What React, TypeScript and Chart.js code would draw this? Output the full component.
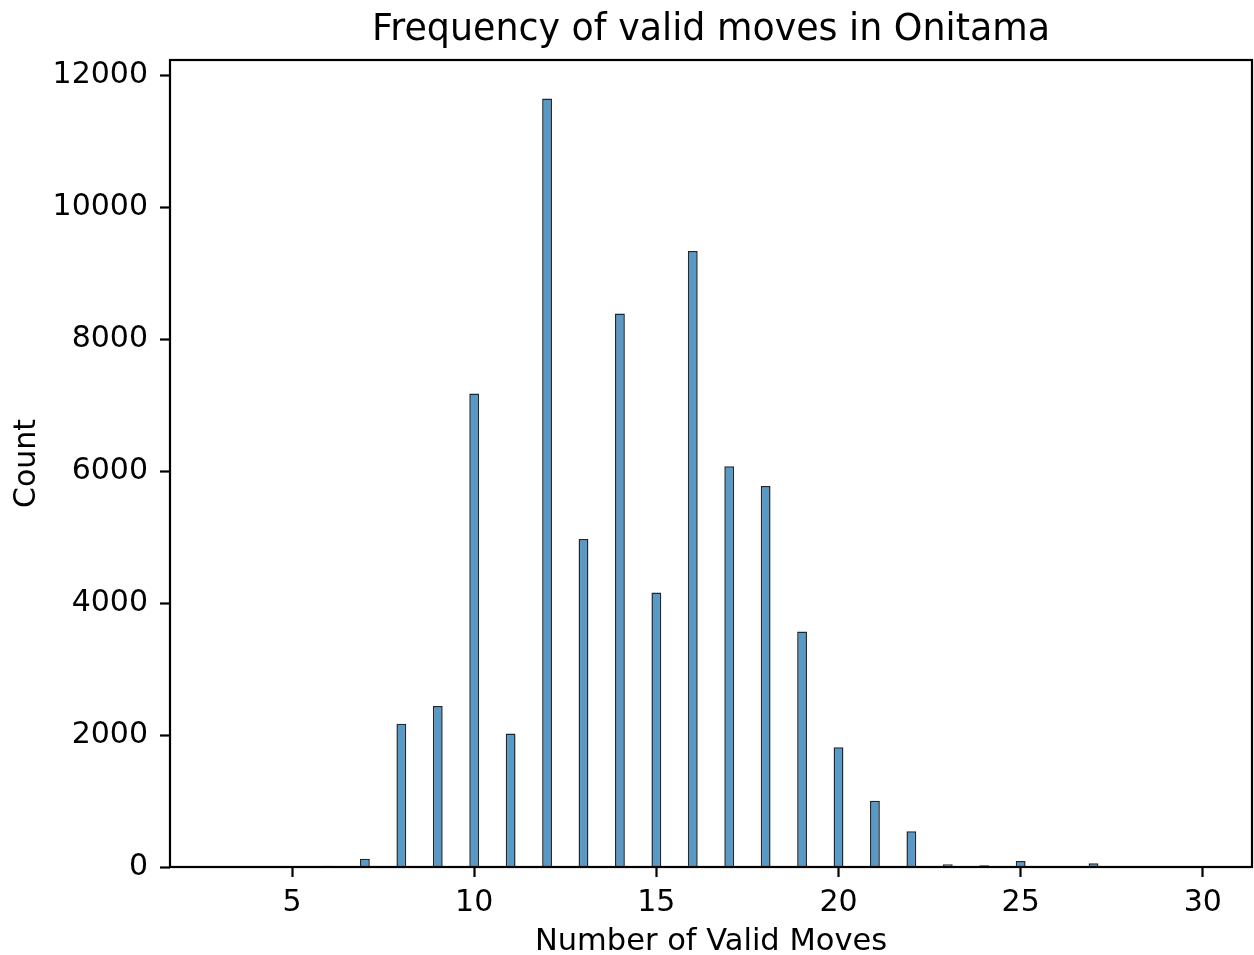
import React, { useEffect, useRef } from "react";
import { Chart, registerables } from "chart.js";

Chart.register(...registerables);

// Number of valid moves (histogram bins) and their counts
const validMoves = [4, 5, 6, 7, 8, 9, 10, 11, 12, 13, 14, 15, 16, 17, 18, 19, 20, 21, 22, 23, 24, 25, 26, 27, 28, 29, 30];
const counts = [5, 5, 20, 125, 2170, 2440, 7175, 2025, 11645, 4970, 8390, 4160, 9335, 6075, 5775, 3570, 1815, 1005, 540, 40, 25, 90, 8, 55, 0, 2, 2];

const xTickValues = [5, 10, 15, 20, 25, 30];
const yTickValues = [0, 2000, 4000, 6000, 8000, 10000, 12000];

const chartTitle = "Frequency of valid moves in Onitama";
const xAxisLabel = "Number of Valid Moves";
const yAxisLabel = "Count";

const FONT = "'DejaVu Sans', sans-serif";

export default function App() {
  const canvasRef = useRef<HTMLCanvasElement | null>(null);

  useEffect(() => {
    if (!canvasRef.current) return;
    const framePlugin = {
      id: "frame",
      afterDatasetsDraw(chart: any) {
        const { ctx, chartArea } = chart;
        const { left, top, right, bottom } = chartArea;
        ctx.save();
        ctx.strokeStyle = "#000";
        ctx.lineWidth = 2.2;
        ctx.strokeRect(left, top, right - left, bottom - top);
        ctx.restore();
      },
    };
    const titlePlugin = {
      id: "axesTitle",
      afterDraw(chart: any) {
        const { ctx, chartArea } = chart;
        ctx.save();
        ctx.fillStyle = "#000";
        ctx.font = `36.4px ${FONT}`;
        ctx.textAlign = "center";
        ctx.textBaseline = "middle";
        ctx.fillText(chartTitle, (chartArea.left + chartArea.right) / 2, 31);
        ctx.restore();
      },
    };

    const chart = new Chart(canvasRef.current, {
      type: "bar",
      data: {
        datasets: [
          {
            data: validMoves.map((x, i) => ({ x, y: counts[i] })),
            backgroundColor: "rgba(31,119,180,0.75)",
            borderColor: "rgba(0,0,0,0.85)",
            borderWidth: 1.5,
            barPercentage: 0.27,
            categoryPercentage: 1,
          },
        ],
      },
      options: {
        responsive: false,
        animation: false,
        devicePixelRatio: 1,
        layout: { padding: { left: 0, right: 2, top: 60, bottom: 0 } },
        plugins: {
          legend: { display: false },
          tooltip: { enabled: false },
          title: { display: false },
        },
        scales: {
          x: {
            type: "linear",
            min: 1.65,
            max: 31.35,
            offset: false,
            afterBuildTicks: (s: any) => {
              s.ticks = xTickValues.map((v) => ({ value: v }));
            },
            afterFit: (s: any) => {
              s.height = 88;
            },
            grid: {
              offset: false,
              display: true,
              drawOnChartArea: false,
              drawTicks: true,
              tickLength: 10,
              tickWidth: 2.2,
              tickColor: "#000",
            },
            border: { display: false },
            ticks: {
              color: "#000",
              font: { family: FONT, size: 30 },
              padding: 8,
              maxRotation: 0,
              autoSkip: false,
              callback: (v: any) => String(v),
            },
            title: {
              display: true,
              text: xAxisLabel,
              color: "#000",
              font: { family: FONT, size: 30.5, lineHeight: 0.85 },
              padding: { top: 0, bottom: 0 },
            },
          },
          y: {
            type: "linear",
            min: 0,
            max: 12230,
            afterBuildTicks: (s: any) => {
              s.ticks = yTickValues.map((v) => ({ value: v }));
            },
            afterFit: (s: any) => {
              s.width = 170;
            },
            grid: {
              display: true,
              drawOnChartArea: false,
              drawTicks: true,
              tickLength: 10,
              tickWidth: 2.2,
              tickColor: "#000",
            },
            border: { display: false },
            ticks: {
              color: "#000",
              font: { family: FONT, size: 30 },
              padding: 12,
              autoSkip: false,
              callback: (v: any) => String(v),
            },
            title: {
              display: true,
              text: yAxisLabel,
              color: "#000",
              font: { family: FONT, size: 30, lineHeight: 1 },
              padding: { top: 12, bottom: 0 },
            },
          },
        },
      },
      plugins: [framePlugin, titlePlugin],
    } as any);

    return () => {
      chart.destroy();
    };
  }, []);

  return (
    <div style={{ position: "absolute", left: 0, top: 0, width: 1254, height: 955, background: "#fff" }}>
      <canvas ref={canvasRef} width={1254} height={955} style={{ display: "block" }} />
    </div>
  );
}
